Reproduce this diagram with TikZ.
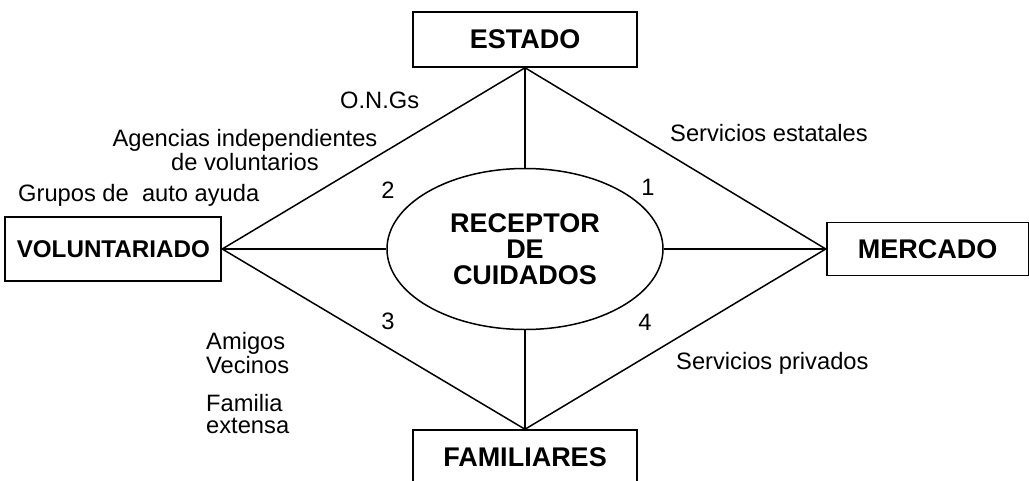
\documentclass[tikz,border=0pt]{standalone}
\usepackage{fontspec}
\setmainfont{Liberation Sans}
\usetikzlibrary{positioning,shapes.geometric}

\tikzset{
  actor/.style={draw, line width=1.8pt, rectangle, inner sep=0pt,
    minimum width=224pt, minimum height=55pt,
    font=\fontsize{27}{27}\selectfont\bfseries},
  hub/.style={draw, line width=1.5pt, ellipse, inner sep=0pt,
    minimum width=276pt, minimum height=161pt, align=center,
    font=\fontsize{27}{26}\selectfont\bfseries},
  tag/.style={inner sep=0pt, font=\fontsize{23.7}{22}\selectfont},
  spoke/.style={line width=1.5pt}
}

\begin{document}
\begin{tikzpicture}[x=1pt, y=-1pt]
\useasboundingbox (0,0) rectangle (1029,480);

\node[hub] (rc) at (525,249) {RECEPTOR\\DE\\CUIDADOS};
\node[actor, above=100pt of rc] (estado) {ESTADO};
\node[actor, below=99pt of rc] (fam) {FAMILIARES};
\node[actor, left=164pt of rc, minimum width=216pt, minimum height=64pt,
  font=\fontsize{24.2}{24}\selectfont\bfseries] (vol) {VOLUNTARIADO};
\node[actor, right=162pt of rc, minimum width=202pt, minimum height=53pt] (merc) {MERCADO};

% rombo
\draw[spoke] (estado.south) -- (vol.east);
\draw[spoke] (estado.south) -- (merc.west);
\draw[spoke] (fam.north) -- (vol.east);
\draw[spoke] (fam.north) -- (merc.west);
% radios al centro
\draw[spoke] (estado.south) -- (rc.north);
\draw[spoke] (fam.north) -- (rc.south);
\draw[spoke] (vol.east) -- (rc.west);
\draw[spoke] (merc.west) -- (rc.east);

% sectores
\node[tag] (n1) at (648,187) {1};
\node[tag] (n2) at (388,190) {2};
\node[tag] (n3) at (388,321) {3};
\node[tag] (n4) at (645,322) {4};

% etiquetas
\node[tag, anchor=west] (ong) at (340,100) {O.N.Gs};
\node[tag, align=center] (agencias) at (245,150) {Agencias independientes\\de voluntarios};
\node[tag, anchor=west] (grupos) at (18,195) {Grupos de\ \ auto ayuda};
\node[tag, anchor=west] (servest) at (670,133) {Servicios estatales};
\node[tag, anchor=west, align=left] (amigos) at (206,353) {Amigos\\Vecinos};
\node[tag, anchor=west, align=left] (familia) at (206,414) {Familia\\extensa};
\node[tag, anchor=west] (servpriv) at (676,363) {Servicios privados};
\end{tikzpicture}
\end{document}
